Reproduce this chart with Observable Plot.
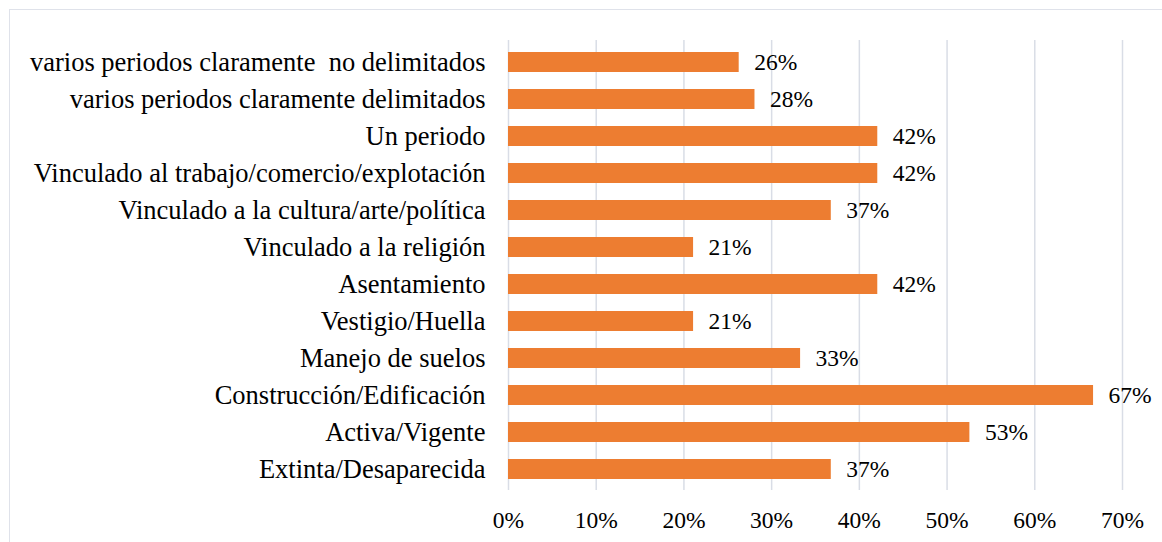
<!DOCTYPE html>
<html><head><meta charset="utf-8">
<script src="https://cdn.jsdelivr.net/npm/d3@7"></script>
<script src="https://cdn.jsdelivr.net/npm/@observablehq/plot@0.6"></script>
<style>
html,body{margin:0;padding:0;background:#fff;}
#frame{position:absolute;left:9px;top:9px;width:1200px;height:600px;border-left:1.5px solid #dfe2ea;border-top:1.5px solid #dfe2ea;}
#chart{position:absolute;left:0;top:0;}
#chart svg, #chart svg text{font-family:'Liberation Serif','Times New Roman',serif !important;white-space:pre;fill:#000;}
</style></head><body>
<div id="frame"></div>
<div id="chart"></div>
<script>
const categories = [
  "varios periodos claramente  no delimitados",
  "varios periodos claramente delimitados",
  "Un periodo",
  "Vinculado al trabajo/comercio/explotación",
  "Vinculado a la cultura/arte/política",
  "Vinculado a la religión",
  "Asentamiento",
  "Vestigio/Huella",
  "Manejo de suelos",
  "Construcción/Edificación",
  "Activa/Vigente",
  "Extinta/Desaparecida"
];
const values = [26.3, 28.1, 42.1, 42.1, 36.8, 21.1, 42.1, 21.1, 33.3, 66.7, 52.6, 36.8];
const xTicks = [0, 10, 20, 30, 40, 50, 60, 70];
const data = categories.map((c, i) => ({category: c, value: values[i]}));
const serif = "Liberation Serif";

const chart = Plot.plot({
  width: 1162,
  height: 542,
  marginLeft: 508,
  marginRight: 40,
  marginTop: 40,
  marginBottom: 52,
  style: {background: "transparent", fontFamily: serif},
  x: {domain: [0, 70], ticks: xTicks, tickFormat: d => d + "%", label: null},
  y: {domain: categories, paddingInner: 0.47, paddingOuter: 0.235, label: null},
  marks: [
    Plot.gridX(xTicks, {stroke: "#d9dde6", strokeOpacity: 1, strokeWidth: 1.5}),
    Plot.barX(data, {x: "value", y: "category", fill: "#ED7D31"}),
    Plot.text(data, {x: "value", y: "category", text: d => Math.round(d.value) + "%", textAnchor: "start", dx: 15, fontSize: 23.5, fontFamily: serif, fill: "#000"}),
    Plot.axisX({ticks: xTicks, tickFormat: d => d + "%", tickSize: 0, tickPadding: 21, fontSize: 23.5, fontFamily: serif, label: null}),
    Plot.axisY({tickSize: 0, tickPadding: 23, fontSize: 26.5, fontFamily: serif, label: null})
  ]
});
document.getElementById("chart").appendChild(chart);
</script>
</body></html>
